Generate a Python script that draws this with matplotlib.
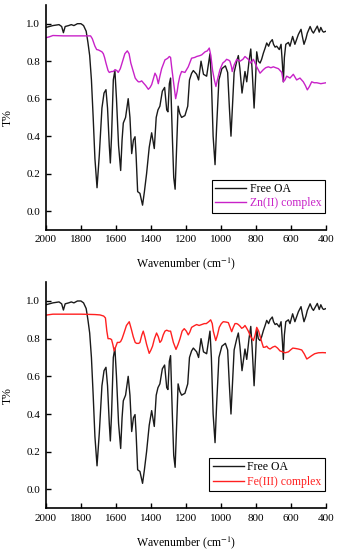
import numpy as np
import matplotlib
matplotlib.use("Agg")
import matplotlib.pyplot as plt

plt.rcParams['font.family'] = ['Liberation Serif', 'DejaVu Serif']
plt.rcParams['mathtext.fontset'] = 'stix'

# Free OA spectrum (wavenumber, T)
oa_wn = [2000, 1960, 1925, 1910, 1900, 1890, 1870, 1855, 1840, 1820, 1800, 1785, 1770, 1760,
         1750, 1740, 1730, 1720, 1708, 1695, 1680, 1668, 1657, 1648, 1638, 1632, 1625, 1615,
         1606, 1597, 1585, 1573, 1565, 1558, 1545, 1530, 1520, 1510, 1500, 1491, 1485, 1476,
         1463, 1455, 1448, 1438, 1425, 1410, 1396, 1381, 1370, 1360, 1349, 1335, 1322, 1310,
         1303, 1295, 1288, 1278, 1270, 1262, 1255, 1245, 1235, 1225, 1206, 1190, 1180, 1168,
         1158, 1139, 1128, 1114, 1100, 1082, 1063, 1055, 1045, 1034, 1025, 1012, 995, 975,
         962, 952, 943, 935, 925, 910, 901, 892, 880, 870, 863, 853, 840, 830, 822, 811,
         803, 796, 787, 777, 768, 758, 748, 739, 728, 720, 707, 700, 691, 682, 667, 657,
         649, 644, 638, 630, 615, 606, 591, 578, 558, 543, 535, 526, 515, 507, 491, 480,
         472, 463, 450, 439, 430, 420, 414, 400]
oa_t = [0.98, 0.99, 0.995, 0.985, 0.952, 0.985, 0.99, 0.995, 0.99, 1.0, 1.0, 0.99, 0.96, 0.90,
        0.83, 0.70, 0.50, 0.28, 0.125, 0.30, 0.55, 0.63, 0.648, 0.55, 0.35, 0.257, 0.40, 0.70,
        0.75, 0.60, 0.35, 0.217, 0.38, 0.47, 0.50, 0.60, 0.50, 0.307, 0.38, 0.397, 0.30, 0.104,
        0.095, 0.06, 0.032, 0.10, 0.20, 0.34, 0.418, 0.334, 0.50, 0.54, 0.56, 0.64, 0.66, 0.54,
        0.53, 0.68, 0.71, 0.40, 0.18, 0.117, 0.30, 0.56, 0.52, 0.50, 0.51, 0.56, 0.70, 0.735,
        0.75, 0.73, 0.70, 0.80, 0.73, 0.72, 0.84, 0.70, 0.40, 0.248, 0.45, 0.70, 0.76, 0.775,
        0.74, 0.55, 0.40, 0.55, 0.74, 0.80, 0.83, 0.76, 0.63, 0.70, 0.745, 0.69, 0.80, 0.865, 0.75, 0.55,
        0.70, 0.85, 0.80, 0.79, 0.81, 0.843, 0.87, 0.897, 0.88, 0.90, 0.915, 0.89, 0.875, 0.88, 0.862, 0.89,
        0.78, 0.69, 0.82, 0.89, 0.90, 0.88, 0.932, 0.89, 0.943, 0.97, 0.93, 0.89, 0.92, 0.95, 0.985, 0.96,
        0.95, 0.965, 0.987, 0.955, 0.98, 0.96, 0.955, 0.96]

# Zn(II) complex
zn_wn = [2000, 1980, 1960, 1900, 1800, 1745, 1735, 1720, 1710, 1700, 1690, 1680, 1672, 1665,
         1657, 1645, 1638, 1625, 1615, 1605, 1595, 1587, 1575, 1562, 1549, 1535, 1525, 1515,
         1501, 1490, 1482, 1472, 1463, 1453, 1444, 1430, 1415, 1405, 1396, 1385, 1377, 1368,
         1358, 1349, 1339, 1320, 1305, 1295, 1288, 1282, 1270, 1259, 1250, 1244, 1235, 1225,
         1206, 1187, 1168, 1150, 1139, 1120, 1110, 1091, 1078, 1067, 1058, 1048, 1038, 1029,
         1018, 1006, 990, 977, 968, 955, 949, 940, 936, 925, 910, 891, 875, 863, 844, 830,
         815, 796, 777, 758, 745, 730, 715, 701, 687, 672, 653, 644, 635, 625, 615, 606,
         587, 568, 549, 530, 518, 507, 495, 482, 468, 453, 430, 400]
zn_t = [0.925, 0.93, 0.937, 0.935, 0.935, 0.935, 0.92, 0.88, 0.862, 0.86, 0.855, 0.85, 0.84, 0.82,
        0.79, 0.75, 0.74, 0.745, 0.745, 0.755, 0.75, 0.74, 0.76, 0.80, 0.84, 0.855, 0.84, 0.79,
        0.745, 0.71, 0.70, 0.69, 0.69, 0.695, 0.685, 0.67, 0.65, 0.66, 0.675, 0.71, 0.736, 0.72,
        0.68, 0.72, 0.76, 0.807, 0.815, 0.825, 0.82, 0.77, 0.68, 0.60, 0.64, 0.68, 0.72, 0.745,
        0.74, 0.77, 0.816, 0.82, 0.825, 0.83, 0.834, 0.85, 0.855, 0.87, 0.83, 0.75, 0.70, 0.665,
        0.71, 0.755, 0.79, 0.80, 0.81, 0.805, 0.80, 0.77, 0.745, 0.78, 0.81, 0.80, 0.81, 0.825, 0.81, 0.79,
        0.81, 0.77, 0.736, 0.755, 0.765, 0.77, 0.765, 0.77, 0.765, 0.76, 0.74, 0.69, 0.70, 0.72, 0.715, 0.71,
        0.73, 0.70, 0.71, 0.69, 0.67, 0.647, 0.665, 0.69, 0.685, 0.685, 0.68, 0.685]

# Fe(III) complex
fe_wn = [2000, 1960, 1900, 1800, 1720, 1691, 1670, 1660, 1652, 1645, 1634, 1625, 1618, 1610,
         1600, 1592, 1580, 1573, 1565, 1554, 1540, 1524, 1512, 1501, 1490, 1482, 1470, 1463,
         1452, 1444, 1435, 1425, 1410, 1400, 1391, 1380, 1368, 1358, 1349, 1340, 1330, 1320,
         1310, 1298, 1288, 1280, 1272, 1257, 1245, 1234, 1222, 1210, 1198, 1187, 1178, 1168,
         1150, 1139, 1125, 1110, 1095, 1084, 1070, 1059, 1050, 1044, 1030, 1020, 1010, 998,
         987, 970, 958, 948, 939, 930, 920, 910, 901, 890, 882, 872, 863, 853, 844, 830,
         815, 805, 796, 785, 770, 758, 748, 739, 730, 720, 705, 691, 677, 663, 648, 634,
         615, 603, 590, 575, 558, 539, 525, 510, 497, 482, 465, 444, 420, 400]
fe_t = [0.925, 0.93, 0.93, 0.93, 0.928, 0.926, 0.92, 0.91, 0.84, 0.80, 0.80, 0.795, 0.77, 0.735,
        0.76, 0.78, 0.78, 0.785, 0.80, 0.83, 0.87, 0.89, 0.85, 0.81, 0.78, 0.775, 0.775, 0.78,
        0.82, 0.84, 0.81, 0.77, 0.722, 0.74, 0.76, 0.80, 0.83, 0.81, 0.78, 0.79, 0.82, 0.84,
        0.845, 0.84, 0.84, 0.81, 0.78, 0.743, 0.77, 0.80, 0.84, 0.853, 0.84, 0.82, 0.835, 0.86,
        0.87, 0.875, 0.87, 0.875, 0.88, 0.88, 0.89, 0.90, 0.88, 0.84, 0.79, 0.82, 0.86, 0.88,
        0.89, 0.888, 0.885, 0.86, 0.837, 0.86, 0.88, 0.88, 0.875, 0.865, 0.855, 0.86, 0.87, 0.855, 0.84, 0.81,
        0.79, 0.82, 0.86, 0.84, 0.79, 0.754, 0.755, 0.76, 0.75, 0.745, 0.755, 0.76, 0.75, 0.735, 0.73, 0.725,
        0.73, 0.74, 0.75, 0.748, 0.745, 0.74, 0.72, 0.692, 0.70, 0.71, 0.72, 0.725, 0.726, 0.725]

xticks = [2000, 1800, 1600, 1400, 1200, 1000, 800, 600, 400]
yticks = [0.0, 0.2, 0.4, 0.6, 0.8, 1.0]

ZN_COLOR = '#C822C8'
FE_COLOR = '#FF2020'

fig = plt.figure(figsize=(3.4, 5.5), dpi=100)
ax1 = fig.add_axes([0.135, 0.582, 0.824, 0.409])
ax2 = fig.add_axes([0.135, 0.076, 0.824, 0.411])


def style_panel(ax, label, color, wn, t):
    ax.plot(oa_wn, oa_t, color='#1a1a1a', lw=1.0, label='Free OA')
    ax.plot(wn, t, color=color, lw=1.0, label=label)
    ax.set_xlim(2000, 400)
    ax.set_ylim(-0.1, 1.1)
    ax.set_xticks(xticks)
    ax.set_yticks(yticks)
    ax.set_yticklabels(['%.1f' % v for v in yticks])
    for s in ['top', 'right']:
        ax.spines[s].set_visible(False)
    for s in ['left', 'bottom']:
        ax.spines[s].set_linewidth(1.2)
    ax.tick_params(direction='in', length=3.5, width=1.0, labelsize=8, pad=4)
    ax.set_xlabel('Wavenumber (cm$^{-1}$)', fontsize=8.5, labelpad=8)
    ax.set_ylabel('T%', fontsize=8.5, labelpad=9)
    leg = ax.legend(loc='lower right', bbox_to_anchor=(1.0, 0.07), fontsize=8.5,
                    frameon=True, fancybox=False, edgecolor='black', framealpha=1,
                    handlelength=2.6, handletextpad=0.3, borderpad=0.3,
                    labelspacing=0.2, borderaxespad=0.1)
    leg.get_frame().set_linewidth(0.8)
    leg.get_texts()[1].set_color(color)


style_panel(ax1, 'Zn(II) complex', ZN_COLOR, zn_wn, zn_t)
style_panel(ax2, 'Fe(III) complex', FE_COLOR, fe_wn, fe_t)

fig.savefig('out.png', dpi=100)
